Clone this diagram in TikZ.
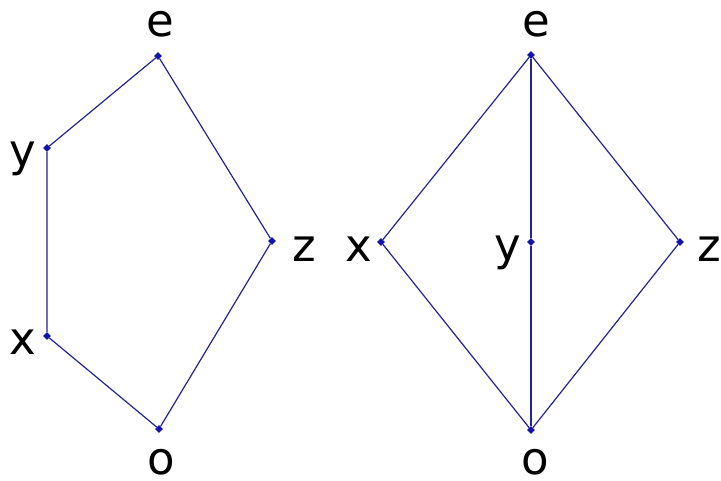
\documentclass[tikz,border=0pt]{standalone}
\usepackage{fontspec}
\setmainfont{DejaVu Sans}
\usetikzlibrary{shapes.geometric}
\definecolor{edgecol}{RGB}{35,35,150}
\definecolor{dotcol}{RGB}{20,20,170}
\begin{document}
\begin{tikzpicture}[x=1pt,y=-1pt,
  vtx/.style={diamond,fill=dotcol,inner sep=0pt,minimum size=8pt},
  lbl/.style={anchor=base,inner sep=0pt,font=\fontsize{45}{45}\selectfont},
  edge/.style={draw=edgecol,line width=1.2pt}]
\useasboundingbox[fill=white] (0,0) rectangle (721,481);
% left lattice
\node[vtx] (le) at (158,56) {};
\node[vtx] (ly) at (47,148) {};
\node[vtx] (lx) at (47,336) {};
\node[vtx] (lo) at (159,429) {};
\node[vtx] (lz) at (272,241) {};
\draw[edge] (lo) -- (lx) -- (ly) -- (le) -- (lz) -- (lo);
\node[lbl] (tle) at (160,37) {e};
\node[lbl] (tly) at (23,167) {y};
\node[lbl] (tlx) at (23,355) {x};
\node[lbl] (tlo) at (161,474) {o};
\node[lbl] (tlz) at (304,262) {z};
% right lattice
\node[vtx] (re) at (531,55) {};
\node[vtx] (rx) at (381,242) {};
\node[vtx] (ry) at (531,242) {};
\node[vtx] (rz) at (680,242) {};
\node[vtx] (ro) at (531,430) {};
\draw[edge] (ro) -- (rx) -- (re) -- (rz) -- (ro);
\draw[edge] (ro) -- (ry) -- (re);
\node[lbl] (tre) at (536,37) {e};
\node[lbl] (trx) at (359,262) {x};
\node[lbl] (try) at (508,261) {y};
\node[lbl] (trz) at (709,262) {z};
\node[lbl] (tro) at (535,474) {o};
\end{tikzpicture}
\end{document}
